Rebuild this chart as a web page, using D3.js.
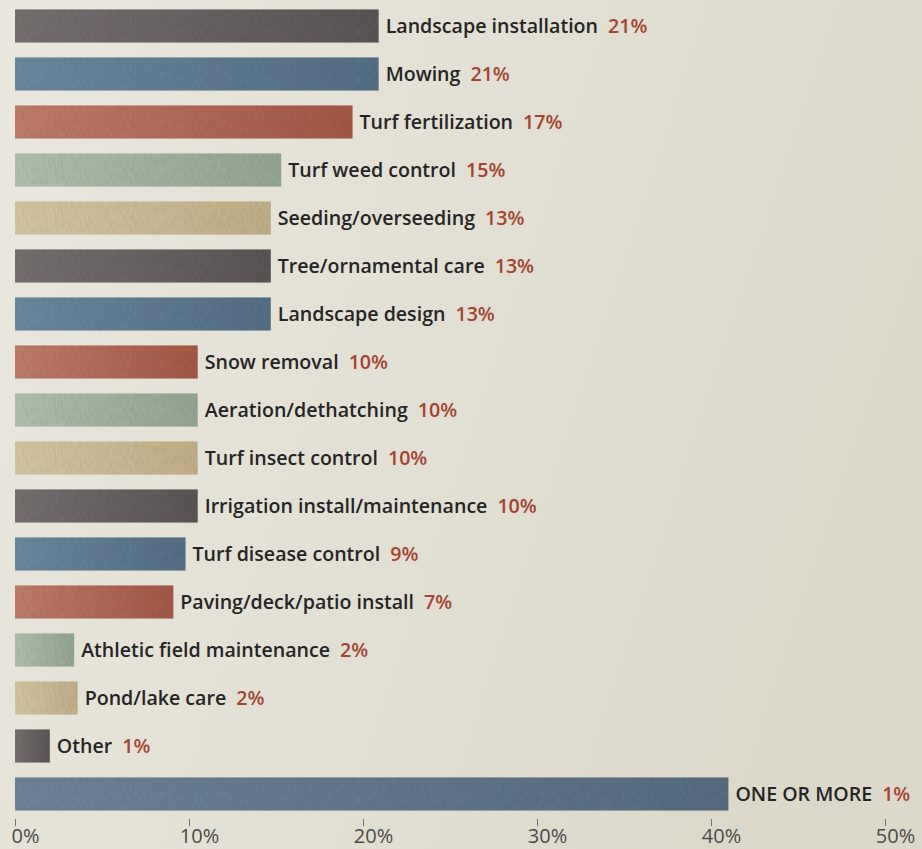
<!DOCTYPE html>
<html>
<head>
<meta charset="utf-8">
<script src="https://cdn.jsdelivr.net/npm/d3@7"></script>
<style>
  html, body { margin: 0; padding: 0; overflow: hidden; }
  body { width: 922px; height: 849px; }
  text { font-family: "Open Sans", "Noto Sans", sans-serif; }
</style>
</head>
<body>
<svg id="chart" width="922" height="849"></svg>
<script>
// services offered (top to bottom)
var categories = ["Landscape installation", "Mowing", "Turf fertilization", "Turf weed control",
  "Seeding/overseeding", "Tree/ornamental care", "Landscape design", "Snow removal",
  "Aeration/dethatching", "Turf insect control", "Irrigation install/maintenance",
  "Turf disease control", "Paving/deck/patio install", "Athletic field maintenance",
  "Pond/lake care", "Other", "ONE OR MORE"];
// printed percentages next to each bar
var printed = [21, 21, 17, 15, 13, 13, 13, 10, 10, 10, 10, 9, 7, 2, 2, 1, 1];
// bar lengths as drawn, read against the axis (%)
var barLengths = [20.9, 20.9, 19.4, 15.3, 14.7, 14.7, 14.7, 10.5, 10.5, 10.5, 10.5, 9.8, 9.1, 3.4, 3.6, 2.0, 41.0];
var tickValues = [0, 10, 20, 30, 40, 50];

// light / dark ends of each bar colour, repeating every 5 bars
var barColors = [
  ["#7a7374", "#5e5758"],
  ["#708ca2", "#587289"],
  ["#c4806d", "#a85c49"],
  ["#b5c4b2", "#98aa96"],
  ["#dacaa5", "#c6b38c"]
];
var lastColor = ["#71879a", "#5a7084"];

var width = 922, height = 849;
var svg = d3.select("#chart");

var defs = svg.append("defs");

var bg = defs.append("linearGradient").attr("id", "bg").attr("x1", 0).attr("x2", 1).attr("y1", 0).attr("y2", 0.3);
bg.append("stop").attr("offset", "0%").attr("stop-color", "#e9e7de");
bg.append("stop").attr("offset", "100%").attr("stop-color", "#dcd9cb");

barColors.concat([lastColor]).forEach(function(c, i) {
  var g = defs.append("linearGradient").attr("id", "bar" + i);
  g.append("stop").attr("offset", "0%").attr("stop-color", c[0]);
  g.append("stop").attr("offset", "100%").attr("stop-color", c[1]);
});

// a little grain like the printed page
var grain = defs.append("filter").attr("id", "grain").attr("x", 0).attr("y", 0).attr("width", 1).attr("height", 1);
grain.append("feTurbulence").attr("type", "fractalNoise").attr("baseFrequency", "0.6 0.15").attr("numOctaves", 2).attr("seed", 3).attr("result", "noise");
grain.append("feColorMatrix").attr("in", "noise").attr("type", "matrix")
  .attr("values", "0 0 0 0 0  0 0 0 0 0  0 0 0 0 0  0 0 0 0.22 0").attr("result", "dots");
grain.append("feComposite").attr("in", "dots").attr("in2", "SourceGraphic").attr("operator", "in").attr("result", "clip");
grain.append("feMerge").selectAll("feMergeNode").data(["SourceGraphic", "clip"]).enter()
  .append("feMergeNode").attr("in", function(d) { return d; });

svg.append("rect").attr("width", width).attr("height", height).attr("fill", "url(#bg)");

var x = d3.scaleLinear().domain([0, 50]).range([15, 885]);
var y = d3.scaleBand().domain(categories).range([2, 818]).paddingInner(0.31).paddingOuter(0.155);

var rows = svg.selectAll(".row")
  .data(categories)
  .enter().append("g")
  .attr("class", "row")
  .attr("transform", function(d) { return "translate(0," + y(d) + ")"; });

rows.append("rect")
  .attr("x", x(0))
  .attr("y", 0)
  .attr("height", y.bandwidth())
  .attr("width", function(d, i) { return x(barLengths[i]) - x(0); })
  .attr("fill", function(d, i) { return i === categories.length - 1 ? "url(#bar5)" : "url(#bar" + (i % 5) + ")"; })
  .attr("filter", "url(#grain)");

var label = rows.append("text")
  .attr("x", function(d, i) { return x(barLengths[i]) + 7; })
  .attr("y", y.bandwidth() / 2)
  .attr("dy", "0.36em")
  .style("font-size", "19.6px")
  .style("font-weight", 600);

label.append("tspan")
  .attr("fill", "#262424")
  .text(function(d) { return d; });

label.append("tspan")
  .attr("dx", 10)
  .attr("fill", "#a4432f")
  .text(function(d, i) { return printed[i] + "%"; });

// bottom axis: short ticks and labels, no domain line
var axis = svg.append("g")
  .attr("transform", "translate(0,819)")
  .call(d3.axisBottom(x).tickValues(tickValues).tickSize(7).tickPadding(3)
    .tickFormat(function(d) { return d + "%"; }));

axis.select(".domain").remove();
axis.selectAll(".tick line").attr("stroke", "#77736b").attr("stroke-width", 1);
axis.selectAll(".tick text")
  .attr("dx", 10)
  .attr("fill", "#4b4a47")
  .style("font-family", "'Open Sans', sans-serif")
  .style("font-size", "20px");
</script>
</body>
</html>
